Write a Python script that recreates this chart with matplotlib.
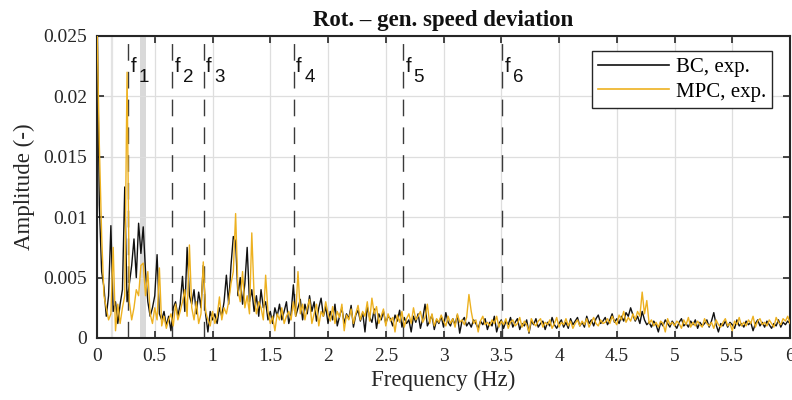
import numpy as np
import matplotlib

matplotlib.use("Agg")

import matplotlib.pyplot as plt

# ==========================================
# DATA
# ==========================================

FREQ_STEP = 0.02  # Hz, spectrum bin width

AMP_SCALE = 1e-4  # values below are in units of 1e-4

# BC, exp. (one row = 0.2 Hz)
bc_amp = [
    280, 110, 55, 42, 18, 35, 93, 22, 30, 12,
    28, 40, 125, 30, 45, 60, 82, 50, 95, 70,
    92, 55, 30, 18, 25, 35, 69, 20, 15, 22,
    10, 18, 6, 25, 30, 18, 28, 51, 22, 75,
    35, 28, 40, 20, 38, 25, 60, 20, 5, 22,
    15, 20, 12, 25, 18, 30, 52, 28, 60, 84,
    80, 35, 50, 28, 45, 75, 30, 40, 22, 35,
    18, 40, 25, 30, 15, 22, 12, 25, 18, 28,
    15, 22, 30, 12, 20, 44, 18, 25, 32, 15,
    28, 20, 35, 22, 30, 14, 25, 33, 18, 26,
    12, 22, 15, 28, 10, 18, 25, 12, 20, 16,
    27, 9, 19, 23, 14, 21, 5, 26, 17, 13,
    24, 8, 20, 15, 22, 12, 18, 16, 10, 19,
    14, 23, 9, 17, 12, 15, 5, 18, 13, 20,
    8, 16, 28, 10, 14, 19, 7, 15, 12, 18,
    9, 21, 13, 10, 16, 11, 19, 4, 14, 17,
    10, 13, 9, 15, 12, 8, 14, 11, 16, 7,
    13, 10, 18, 5, 12, 15, 8, 14, 11, 17,
    9, 13, 16, 7, 12, 10, 15, 4, 14, 11,
    16, 9, 12, 14, 7, 13, 10, 17, 11, 8,
    12, 15, 9, 13, 8, 16, 11, 14, 17, 10,
    13, 9, 18, 12, 15, 10, 16, 19, 12, 14,
    17, 11, 15, 20, 13, 16, 12, 18, 14, 21,
    18, 25, 19, 14, 18, 12, 22, 15, 11, 13,
    9, 14, 11, 5, 13, 10, 15, 12, 9, 14,
    11, 8, 13, 16, 10, 12, 9, 14, 11, 15,
    8, 13, 10, 12, 15, 9, 14, 21, 11, 5,
    12, 10, 14, 9, 13, 11, 8, 15, 10, 12,
    9, 14, 11, 13, 6, 12, 15, 10, 13, 9,
    14, 11, 8, 12, 10, 15, 9, 13, 11, 14,
    12,
]

# MPC, exp. (one row = 0.2 Hz)
mpc_amp = [
    260, 160, 85, 35, 25, 15, 20, 75, 6, 28,
    12, 25, 35, 220, 30, 15, 25, 40, 35, 60,
    62, 35, 55, 20, 12, 25, 15, 58, 10, 18,
    8, 15, 20, 10, 28, 15, 22, 30, 40, 18,
    77, 25, 15, 30, 12, 20, 63, 22, 15, 10,
    22, 12, 18, 34, 15, 25, 20, 30, 45, 55,
    103, 40, 30, 55, 25, 35, 20, 87, 35, 20,
    30, 25, 15, 52, 22, 12, 18, 6, 20, 15,
    25, 12, 18, 22, 15, 30, 18, 55, 20, 28,
    15, 25, 32, 12, 20, 28, 10, 22, 18, 30,
    20, 14, 26, 12, 22, 17, 28, 6, 19, 15,
    24, 12, 20, 27, 15, 22, 18, 30, 14, 33,
    20, 26, 12, 18, 24, 10, 20, 14, 17, 5,
    19, 13, 22, 9, 16, 20, 12, 25, 15, 18,
    22, 13, 17, 28, 12, 20, 10, 16, 13, 19,
    14, 10, 18, 12, 16, 9, 20, 13, 15, 11,
    17, 36, 22, 12, 15, 5, 14, 18, 11, 13,
    10, 15, 12, 18, 9, 14, 11, 16, 8, 13,
    15, 10, 12, 17, 9, 14, 11, 5, 16, 12,
    10, 14, 16, 9, 13, 11, 15, 8, 12, 17,
    9, 13, 11, 16, 10, 14, 8, 12, 15, 10,
    14, 11, 16, 9, 13, 17, 12, 10, 15, 12,
    13, 16, 12, 18, 14, 11, 19, 15, 22, 13,
    17, 14, 20, 15, 22, 18, 38, 20, 31, 12,
    15, 10, 13, 9, 14, 12, 5, 16, 11, 13,
    10, 14, 12, 8, 15, 11, 17, 9, 13, 10,
    14, 11, 9, 16, 12, 10, 13, 8, 15, 11,
    9, 13, 16, 10, 12, 6, 14, 11, 17, 10,
    13, 10, 15, 12, 18, 9, 14, 16, 11, 13,
    10, 15, 12, 9, 17, 13, 11, 16, 14, 18,
    12,
]

# mode frequencies (dashed lines)
mode_freqs = [0.27, 0.652, 0.924, 1.703, 2.65, 3.507]

mode_labels = ["1", "2", "3", "4", "5", "6"]

# shaded frequency band and light marker line
shaded_band = [0.37, 0.42]

marker_freq = 0.13

x_ticks = [0, 0.5, 1, 1.5, 2, 2.5, 3, 3.5, 4, 4.5, 5, 5.5, 6]

x_tick_labels = ["0", "0.5", "1", "1.5", "2", "2.5", "3",
                 "3.5", "4", "4.5", "5", "5.5", "6"]

y_ticks = [0, 0.005, 0.01, 0.015, 0.02, 0.025]

y_tick_labels = ["0", "0.005", "0.01", "0.015", "0.02", "0.025"]

# ==========================================
# STYLE
# ==========================================

plt.rcParams["font.family"] = ["Liberation Serif", "DejaVu Serif"]

DARK = "#262626"
BC_COLOR = "#111111"
MPC_COLOR = "#EDB120"

# ==========================================
# FIGURE
# ==========================================

fig = plt.figure(figsize=(7.92, 4.0), dpi=100)

ax = fig.add_axes([0.1225, 0.155, 0.875, 0.755])

freq_bc = np.arange(len(bc_amp)) * FREQ_STEP
freq_mpc = np.arange(len(mpc_amp)) * FREQ_STEP

# band + marker
ax.axvspan(shaded_band[0], shaded_band[1], color="#d9d9d9", lw=0, zorder=0.5)

ax.axvline(marker_freq, color="#e3e3e3", lw=1.6, zorder=0.5)

# mode lines
for fm in mode_freqs:

    ax.axvline(
        fm,
        color="#3a3a3a",
        lw=1.0,
        dashes=(12, 8),
        zorder=1
    )

# spectra
ax.plot(
    freq_bc,
    np.array(bc_amp) * AMP_SCALE,
    color=BC_COLOR,
    lw=1.0,
    label="BC, exp.",
    zorder=2
)

ax.plot(
    freq_mpc,
    np.array(mpc_amp) * AMP_SCALE,
    color=MPC_COLOR,
    lw=1.0,
    label="MPC, exp.",
    zorder=3
)

# mode labels  f + subscript
for fm, lab in zip(mode_freqs, mode_labels):

    ax.annotate(
        "f",
        xy=(fm, 0.0220),
        xytext=(2.5, 0),
        textcoords="offset pixels",
        fontsize=14.5,
        family="Liberation Sans",
        color="#111111",
        ha="left",
        va="baseline",
        zorder=4
    )

    ax.annotate(
        lab,
        xy=(fm, 0.0212),
        xytext=(10.5, 0),
        textcoords="offset pixels",
        fontsize=13.5,
        family="Liberation Sans",
        color="#111111",
        ha="left",
        va="baseline",
        zorder=4
    )

# ==========================================
# AXES
# ==========================================

ax.set_xlim(0, 6)
ax.set_ylim(0, 0.025)

ax.set_xticks(x_ticks)
ax.set_xticklabels(x_tick_labels)

ax.set_yticks(y_ticks)
ax.set_yticklabels(y_tick_labels)

ax.tick_params(
    direction="in",
    length=5,
    width=1.2,
    colors=DARK,
    labelsize=14,
    top=True,
    right=True,
    pad=7
)

for sp in ax.spines.values():

    sp.set_linewidth(1.5)
    sp.set_color(DARK)

ax.grid(True, color="#dedede", lw=0.9)
ax.set_axisbelow(True)

ax.set_xlabel("Frequency (Hz)", fontsize=16.5, color=DARK, labelpad=4)

ax.set_ylabel("Amplitude (-)", fontsize=16.5, color=DARK, labelpad=6)

ax.set_title(
    "Rot. \u2013 gen. speed deviation",
    fontsize=16.5,
    fontweight="bold",
    color="#111111",
    pad=7
)

leg = ax.legend(
    loc="upper right",
    bbox_to_anchor=(0.974, 0.950),
    borderaxespad=0,
    fontsize=15,
    fancybox=False,
    framealpha=1,
    edgecolor=DARK,
    handlelength=3.4,
    handletextpad=0.3,
    borderpad=0.3,
    labelspacing=0.25
)

leg.get_frame().set_linewidth(1.0)

for lh in leg.get_lines():

    lh.set_linewidth(1.2)

fig.savefig("out.png", dpi=100)
